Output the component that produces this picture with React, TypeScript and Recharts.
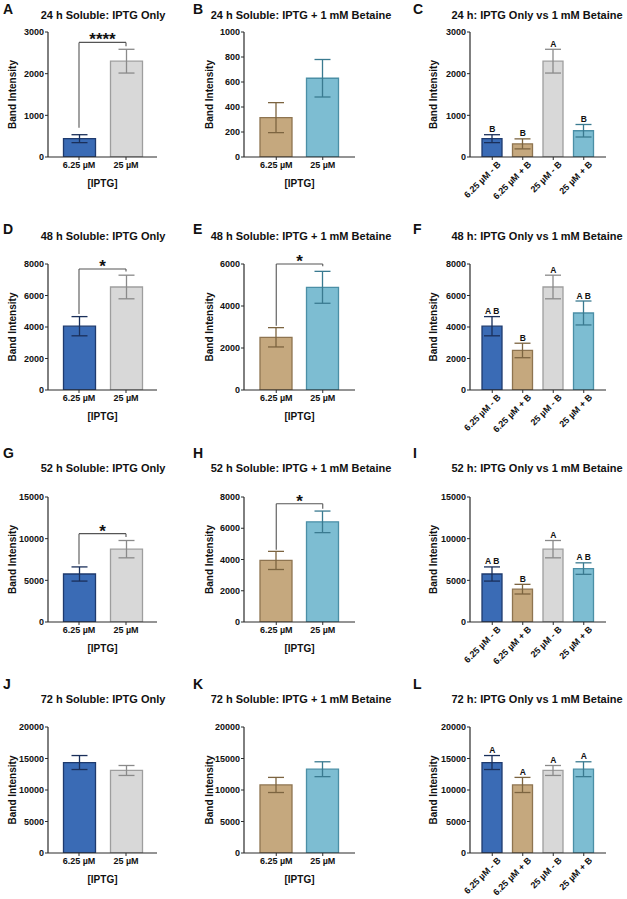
import React from 'react';
import { BarChart, Bar, XAxis, YAxis, ErrorBar, ReferenceLine, ReferenceDot } from 'recharts';

const FONT = '"Liberation Sans", Arial, Helvetica, sans-serif';
const AXIS = '#2b2b2b';

// treatments: 6.25 µM - betaine, 6.25 µM + betaine, 25 µM - betaine, 25 µM + betaine
const doseLabels = ['6.25 µM', '25 µM'];
const groupLabels = ['6.25 µM - B', '6.25 µM + B', '25 µM - B', '25 µM + B'];

const mean24 = [440, 315, 2300, 630];
const sem24 = [95, 120, 285, 150];
const mean48 = [4050, 2510, 6540, 4890];
const sem48 = [610, 460, 750, 760];
const mean52 = [5760, 3940, 8740, 6410];
const sem52 = [850, 580, 1040, 690];
const mean72 = [14360, 10800, 13100, 13300];
const sem72 = [1110, 1200, 790, 1180];

// compact letter display for the one-way comparisons
const letters24 = ['B', 'B', 'A', 'B'];
const letters48 = ['A B', 'B', 'A', 'A B'];
const letters52 = ['A B', 'B', 'A', 'A B'];
const letters72 = ['A', 'A', 'A', 'A'];

const ticks1k = [0, 200, 400, 600, 800, 1000];
const ticks3k = [0, 1000, 2000, 3000];
const ticks6k = [0, 2000, 4000, 6000];
const ticks8k = [0, 2000, 4000, 6000, 8000];
const ticks15k = [0, 5000, 10000, 15000];
const ticks20k = [0, 5000, 10000, 15000, 20000];

const panelIds = ['A', 'B', 'C', 'D', 'E', 'F', 'G', 'H', 'I', 'J', 'K', 'L'];
const titles = [
  '24 h Soluble: IPTG Only',
  '24 h Soluble: IPTG + 1 mM Betaine',
  '24 h: IPTG Only vs 1 mM Betaine',
  '48 h Soluble: IPTG Only',
  '48 h Soluble: IPTG + 1 mM Betaine',
  '48 h: IPTG Only vs 1 mM Betaine',
  '52 h Soluble: IPTG Only',
  '52 h Soluble: IPTG + 1 mM Betaine',
  '52 h: IPTG Only vs 1 mM Betaine',
  '72 h Soluble: IPTG Only',
  '72 h Soluble: IPTG + 1 mM Betaine',
  '72 h: IPTG Only vs 1 mM Betaine',
];

// t-test brackets: bar height, left leg end, right leg end
const bracketA = { level: 2750, left: 700, right: 2660, mark: '****' };
const bracketD = { level: 7680, left: 4820, right: 7530, mark: '*' };
const bracketE = { level: 6000, left: 3060, right: 5890, mark: '*' };
const bracketG = { level: 10600, left: 6920, right: 10200, mark: '*' };
const bracketH = { level: 7570, left: 4630, right: 7250, mark: '*' };

const FILL = ['#3A6BB5', '#C5A87E', '#D8D8D8', '#7DBDD2'];
const EDGE = ['#1E3A6E', '#8E7450', '#9E9E9E', '#4B8FA6'];
const WHISKER = ['#1A2F5A', '#7C6440', '#8A8A8A', '#3A7A90'];

const COLS = [
  { x0: 0, left: 48, right: 157, labelX: 12, pad: 7.5, titleX: 103, letterX: 3 },
  { x0: 196, left: 244, right: 355, labelX: 209, pad: 9, titleX: 301, letterX: 193 },
  { x0: 410, left: 470, right: 606, labelX: 433, pad: 7, titleX: 537, letterX: 413 },
];
const ROWS = [
  { top: 32, bottom: 157, titleY: 18.5, letterY: 14 },
  { top: 264, bottom: 390, titleY: 239.5, letterY: 234 },
  { top: 497, bottom: 622, titleY: 471.5, letterY: 458 },
  { top: 727, bottom: 853, titleY: 702.5, letterY: 689 },
];

const tickText = { fontSize: 9, fontWeight: 700, fill: '#111', fontFamily: FONT };

// 45° category labels, ending just right of the tick
const SlantTick = (props: any) => {
  const { x, y, payload } = props;
  const tx = x + 9;
  const ty = y + 3;
  return (
    <text x={tx} y={ty} transform={`rotate(-45 ${tx} ${ty})`} textAnchor="end"
      fontSize={9} fontWeight={700} fill="#111" fontFamily={FONT}>
      {payload.value}
    </text>
  );
};

const bracketLines = (b: any, cats: string[]) => [
  <ReferenceLine key="bl" ifOverflow="visible" stroke="#555" strokeWidth={1.1}
    segment={[{ x: cats[0], y: b.left }, { x: cats[0], y: b.level }]} />,
  <ReferenceLine key="br" ifOverflow="visible" stroke="#555" strokeWidth={1.1}
    segment={[{ x: cats[1], y: b.right }, { x: cats[1], y: b.level }]} />,
  <ReferenceLine key="bt" ifOverflow="visible" stroke="#555" strokeWidth={1.1}
    segment={[{ x: cats[0], y: b.level }, { x: cats[1], y: b.level }]}
    label={(p: any) => {
      const vb = p.viewBox || {};
      return (
        <text x={vb.x + vb.width / 2} y={vb.y + 3} textAnchor="middle" fontSize={17}
          fontWeight={700} fill="#111" fontFamily={FONT}>{b.mark}</text>
      );
    }} />,
];

function Panel({ col, row, groups, cats, means, errs, ticks, minorStep, bracket, letters }: any) {
  const c = COLS[col];
  const r = ROWS[row];
  const slanted = cats.length > 2;
  const top = 16;
  const xAxisH = slanted ? 46 : 34;
  const width = c.right - c.x0 + 6;
  const height = r.bottom - r.top + top + xAxisH;
  const max = ticks[ticks.length - 1];
  const pad = c.pad;
  const barSize = slanted ? 20 : 32;
  const data = cats.map((name: string, i: number) => ({ name, [`v${i}`]: means[i], [`e${i}`]: errs[i] }));
  const minor: number[] = [];
  if (minorStep) for (let v = 0; v <= max; v += minorStep) minor.push(v);

  return (
    <div style={{ position: 'absolute', left: c.x0, top: r.top - top }}>
      <BarChart width={width} height={height} data={data} margin={{ top, right: 6, left: 0, bottom: 0 }}>
        {cats.map((_: string, i: number) => (
          <XAxis key={`x${i}`} xAxisId={i} dataKey="name" type="category" hide={i > 0}
            padding={{ left: pad, right: pad }} height={xAxisH} interval={0}
            tickSize={3} tickMargin={2}
            tick={slanted ? SlantTick : tickText}
            axisLine={{ stroke: AXIS, strokeWidth: 1.2 }} tickLine={{ stroke: AXIS }}
            label={slanted ? undefined : {
              value: '[IPTG]', position: 'insideBottom', offset: 4,
              style: { fontSize: 10, fontWeight: 700, fill: '#111', fontFamily: FONT },
            }} />
        ))}
        <YAxis yAxisId={0} type="number" domain={[0, max]} ticks={ticks} interval={0}
          allowDataOverflow width={c.left - c.x0} tickSize={3} tickMargin={1} tick={tickText}
          axisLine={{ stroke: AXIS, strokeWidth: 1.2 }} tickLine={{ stroke: AXIS }}
          label={{
            value: 'Band Intensity', angle: -90, position: 'insideLeft', offset: c.labelX - c.x0,
            style: { textAnchor: 'middle', fontSize: 10, fontWeight: 700, fill: '#111', fontFamily: FONT },
          }} />
        {minorStep ? (
          <YAxis yAxisId="minor" type="number" domain={[0, max]} ticks={minor} interval={0}
            allowDataOverflow width={0} tickSize={2} tick={false} axisLine={false}
            tickLine={{ stroke: AXIS, strokeWidth: 0.8 }} />
        ) : null}
        {cats.map((_: string, i: number) => (
          <Bar key={`b${i}`} xAxisId={i} yAxisId={0} dataKey={`v${i}`} barSize={barSize}
            fill={FILL[groups[i]]} stroke={EDGE[groups[i]]} strokeWidth={1.3} isAnimationActive={false}>
            <ErrorBar dataKey={`e${i}`} width={8} stroke={WHISKER[groups[i]]} strokeWidth={1.3}
              direction="y" isAnimationActive={false} />
          </Bar>
        ))}
        {bracket ? bracketLines(bracket, cats) : null}
        {letters
          ? letters.map((t: string, i: number) => (
              <ReferenceDot key={`l${i}`} x={cats[i]} y={means[i] + errs[i]} r={0} fill="none" stroke="none"
                ifOverflow="visible"
                label={(p: any) => {
                  const vb = p.viewBox || {};
                  return (
                    <text x={vb.x + (vb.width || 0) / 2} y={vb.y - 2.5} textAnchor="middle" fontSize={8.5}
                      fontWeight={700} fill="#111" fontFamily={FONT}>{t}</text>
                  );
                }} />
            ))
          : null}
      </BarChart>
    </div>
  );
}

const pick = (arr: number[], idx: number[]) => idx.map((i) => arr[i]);
const ONLY = [0, 2];
const BET = [1, 3];
const ALL = [0, 1, 2, 3];

export default function App() {
  const rows = [
    { mean: mean24, sem: sem24, letters: letters24, only: ticks3k, bet: ticks1k, all: ticks3k,
      onlyMinor: 0, betMinor: 20, allMinor: 0, bOnly: bracketA, bBet: null },
    { mean: mean48, sem: sem48, letters: letters48, only: ticks8k, bet: ticks6k, all: ticks8k,
      onlyMinor: 200, betMinor: 200, allMinor: 200, bOnly: bracketD, bBet: bracketE },
    { mean: mean52, sem: sem52, letters: letters52, only: ticks15k, bet: ticks8k, all: ticks15k,
      onlyMinor: 500, betMinor: 200, allMinor: 500, bOnly: bracketG, bBet: bracketH },
    { mean: mean72, sem: sem72, letters: letters72, only: ticks20k, bet: ticks20k, all: ticks20k,
      onlyMinor: 500, betMinor: 500, allMinor: 500, bOnly: null, bBet: null },
  ];

  return (
    <div style={{ position: 'absolute', left: 0, top: 0, width: 627, height: 899, background: '#fff', fontFamily: FONT }}>
      <svg width={627} height={899} style={{ position: 'absolute', left: 0, top: 0 }}>
        {panelIds.map((id, k) => {
          const c = COLS[k % 3];
          const r = ROWS[Math.floor(k / 3)];
          return (
            <g key={id}>
              <text x={c.letterX} y={r.letterY} fontSize={14} fontWeight={700} fill="#111" fontFamily={FONT}>{id}</text>
              <text x={c.titleX} y={r.titleY} textAnchor="middle" fontSize={11} fontWeight={700} fill="#111" fontFamily={FONT}>
                {titles[k]}
              </text>
            </g>
          );
        })}
      </svg>
      {rows.map((d, ri) => (
        <React.Fragment key={ri}>
          <Panel col={0} row={ri} groups={ONLY} cats={doseLabels} means={pick(d.mean, ONLY)} errs={pick(d.sem, ONLY)}
            ticks={d.only} minorStep={d.onlyMinor} bracket={d.bOnly} />
          <Panel col={1} row={ri} groups={BET} cats={doseLabels} means={pick(d.mean, BET)} errs={pick(d.sem, BET)}
            ticks={d.bet} minorStep={d.betMinor} bracket={d.bBet} />
          <Panel col={2} row={ri} groups={ALL} cats={groupLabels} means={d.mean} errs={d.sem}
            ticks={d.all} minorStep={d.allMinor} letters={d.letters} />
        </React.Fragment>
      ))}
    </div>
  );
}
